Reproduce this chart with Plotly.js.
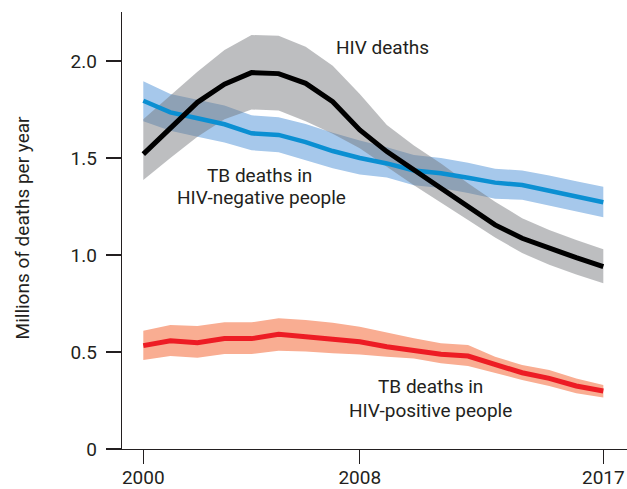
<!DOCTYPE html>
<html>
<head>
<meta charset="utf-8">
<script src="https://cdn.plot.ly/plotly-3.0.1.min.js"></script>
<style>
  html, body { margin: 0; padding: 0; background: #ffffff; }
  #chart { width: 627px; height: 489px; }
</style>
</head>
<body>
<div id="chart"></div>
<script>
// ---- Data (millions of deaths per year) ----
var years = [2000, 2001, 2002, 2003, 2004, 2005, 2006, 2007, 2008, 2009,
             2010, 2011, 2012, 2013, 2014, 2015, 2016, 2017];

var hivDeaths      = [1.52, 1.653, 1.787, 1.88, 1.94, 1.935, 1.885, 1.79, 1.645, 1.533,
                      1.438, 1.344, 1.249, 1.155, 1.086, 1.034, 0.986, 0.94];
var hivDeathsHigh  = [1.70, 1.82, 1.945, 2.057, 2.134, 2.13, 2.074, 1.975, 1.83, 1.67,
                      1.565, 1.472, 1.37, 1.275, 1.19, 1.129, 1.077, 1.03];
var hivDeathsLow   = [1.387, 1.50, 1.61, 1.70, 1.75, 1.745, 1.69, 1.625, 1.55, 1.455,
                      1.36, 1.27, 1.18, 1.09, 1.01, 0.95, 0.90, 0.855];

var tbHivNeg       = [1.795, 1.735, 1.705, 1.674, 1.627, 1.619, 1.582, 1.536, 1.50, 1.472,
                      1.436, 1.421, 1.398, 1.373, 1.361, 1.333, 1.302, 1.272];
var tbHivNegHigh   = [1.896, 1.83, 1.80, 1.77, 1.72, 1.71, 1.675, 1.63, 1.59, 1.555,
                      1.515, 1.50, 1.475, 1.445, 1.435, 1.41, 1.38, 1.352];
var tbHivNegLow    = [1.69, 1.64, 1.61, 1.58, 1.54, 1.53, 1.49, 1.447, 1.415, 1.40,
                      1.36, 1.345, 1.32, 1.29, 1.285, 1.255, 1.225, 1.194];

var tbHivPos       = [0.533, 0.558, 0.548, 0.569, 0.569, 0.591, 0.579, 0.567, 0.553, 0.527,
                      0.51, 0.488, 0.479, 0.433, 0.393, 0.364, 0.325, 0.299];
var tbHivPosHigh   = [0.61, 0.639, 0.634, 0.653, 0.653, 0.674, 0.665, 0.651, 0.63, 0.60,
                      0.571, 0.545, 0.536, 0.476, 0.433, 0.407, 0.364, 0.33];
var tbHivPosLow    = [0.459, 0.479, 0.471, 0.49, 0.49, 0.507, 0.502, 0.493, 0.487, 0.476,
                      0.467, 0.442, 0.428, 0.39, 0.356, 0.325, 0.287, 0.266];

var xTickVals = [2000, 2008, 2017];
var xTickText = ["2000", "2008", "2017"];
var yTickVals = [0, 0.5, 1.0, 1.5, 2.0];
var yTickText = ["0", "0.5", "1.0", "1.5", "2.0"];

var yAxisTitle = "Millions of deaths per year";
var labelHiv = "HIV deaths";
var labelNeg = ["TB deaths in", "HIV-negative people"];
var labelPos = ["TB deaths in", "HIV-positive people"];

// ---- Helpers ----
function band(x, lo, hi, color) {
  return {
    x: x.concat(x.slice().reverse()),
    y: hi.concat(lo.slice().reverse()),
    type: "scatter", mode: "lines",
    fill: "toself", fillcolor: color,
    line: { width: 0, color: "rgba(0,0,0,0)" },
    hoverinfo: "skip", showlegend: false
  };
}
function line(x, y, color, w) {
  return {
    x: x, y: y, type: "scatter", mode: "lines",
    line: { color: color, width: w },
    hoverinfo: "skip", showlegend: false
  };
}

var FONT = "Roboto, 'Open Sans', sans-serif";
var TXT = "#231f20";
var FS = 19;

var traces = [
  band(years, tbHivNegLow, tbHivNegHigh, "#a6c8eb"),
  band(years, hivDeathsLow, hivDeathsHigh, "rgba(114,116,121,0.47)"),
  band(years, tbHivPosLow, tbHivPosHigh, "#f9ad92"),
  line(years, tbHivNeg, "#0b8fd2", 4.5),
  line(years, hivDeaths, "#000000", 5),
  line(years, tbHivPos, "#ed1c24", 5)
];

function ann(text, x, y) {
  return { text: text, x: x, y: y, xref: "x", yref: "y",
           showarrow: false, xanchor: "center", yanchor: "middle",
           font: { family: FONT, size: FS, color: TXT } };
}

var layout = {
  width: 627, height: 489,
  margin: { l: 122, r: 0, t: 12, b: 40, pad: 0 },
  paper_bgcolor: "#ffffff", plot_bgcolor: "#ffffff",
  showlegend: false,
  font: { family: FONT, size: FS, color: TXT },
  xaxis: {
    range: [1999.213, 2017.875],
    tickmode: "array", tickvals: xTickVals, ticktext: xTickText,
    ticks: "outside", ticklen: 14, tickwidth: 1.3, tickcolor: TXT,
    showline: true, linecolor: TXT, linewidth: 1.3,
    showgrid: false, zeroline: false,
    tickfont: { family: FONT, size: FS, color: TXT },
    ticklabelstandoff: -3,
    fixedrange: true
  },
  yaxis: {
    range: [0, 2.2526],
    tickmode: "array", tickvals: yTickVals, ticktext: yTickText,
    ticks: "outside", ticklen: 15, tickwidth: 1.3, tickcolor: TXT,
    showline: true, linecolor: TXT, linewidth: 1.3,
    showgrid: false, zeroline: false,
    tickfont: { family: FONT, size: FS, color: TXT },
    ticklabelstandoff: 5,
    fixedrange: true
  },
  annotations: [
    ann(labelHiv, 2008.84, 2.072),
    ann(labelNeg[0], 2004.31, 1.412),
    ann(labelNeg[1], 2004.35, 1.294),
    ann(labelPos[0], 2010.63, 0.322),
    ann(labelPos[1], 2010.60, 0.196),
    { text: yAxisTitle, xref: "paper", yref: "paper", x: -0.198, y: 0.507,
      xanchor: "center", yanchor: "middle", textangle: -90, showarrow: false,
      font: { family: FONT, size: FS, color: TXT } }
  ]
};

Plotly.newPlot("chart", traces, layout, { staticPlot: true, displayModeBar: false });
</script>
</body>
</html>
